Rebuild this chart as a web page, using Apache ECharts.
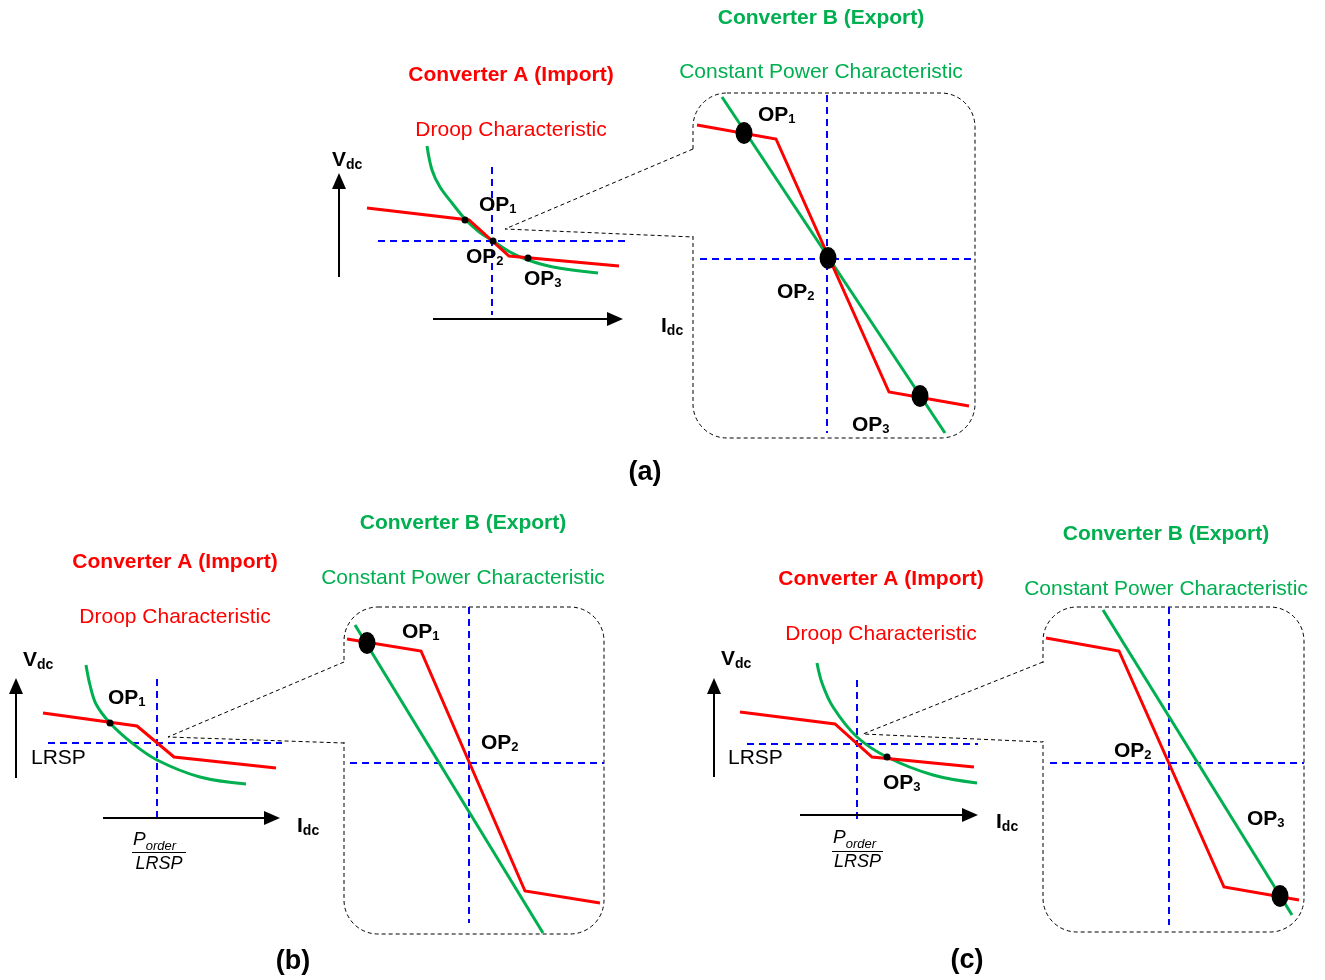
<!DOCTYPE html>
<html>
<head>
<meta charset="utf-8">
<script src="https://cdn.jsdelivr.net/npm/echarts@6/dist/echarts.min.js"></script>
<style>
  html, body { margin: 0; padding: 0; background: #fff; }
  #chart { width: 1325px; height: 980px; }
</style>
</head>
<body>
<div id="chart"></div>
<script>
// Each panel uses its own coordinates: x = Idc, y = Vdc (upwards),
// origin at the corner where the Vdc and Idc axes would meet.

// ---------- Panel (a) ----------
const axesA      = [[0, 42, 0, 146], [94, 0, 284, 0]];
const droopA     = [[28, 111], [130, 99], [170, 63], [280, 53]];
const powerA     = [[88, 173], [93, 149], [101, 132], [113, 116], [126, 100], [139, 88], [154, 78], [171, 67], [189, 59], [214, 52], [259, 46]];
const crossVA    = [[153, 152], [153, 4]];
const crossHA    = [[39, 78], [286, 78]];
const opSmallA   = [[126, 99], [154, 78], [189, 61]];
const funnelA    = [[354, 170], [166, 90], [354, 82]];
const boxA       = [[354, 226, 636, -119, 170, 82]];
const zoomDroopA = [[358, 194], [437, 180], [550, -73], [630, -87]];
const zoomPowerA = [[383, 222], [606, -114]];
const zoomVA     = [[488, 224], [488, -114]];
const zoomHA     = [[361, 60], [636, 60]];
const opZoomA    = [[405, 186], [489, 61], [581, -77]];

// ---------- Panel (b) ----------
const axesB      = [[0, 40, 0, 140], [87, 0, 264, 0]];
const droopB     = [[27, 105], [121, 92], [158, 61], [260, 50]];
const powerB     = [[70, 153], [74, 133], [80, 114], [94, 95], [116, 75], [141, 58], [184, 41], [230, 34]];
const crossVB    = [[141, 139], [141, -4]];
const crossHB    = [[32, 75], [266, 75]];
const opSmallB   = [[94, 95]];
const funnelB    = [[328, 156], [152, 81], [328, 75]];
const boxB       = [[328, 211, 588, -116, 156, 75]];
const zoomDroopB = [[331, 179], [405, 167], [509, -73], [584, -85]];
const zoomPowerB = [[339, 193], [527, -115]];
const zoomVB     = [[453, 211], [453, -105]];
const zoomHB     = [[334, 55], [588, 55]];
const opZoomB    = [[351, 175]];

// ---------- Panel (c) ----------
const axesC      = [[0, 38, 0, 137], [86, 0, 264, 0]];
const droopC     = [[26, 103], [121, 91], [158, 58], [260, 48]];
const powerC     = [[103, 152], [108, 132], [119, 108], [143, 78], [173, 58], [219, 40], [263, 32]];
const crossVC    = [[143, 135], [143, -7]];
const crossHC    = [[33, 71], [264, 71]];
const opSmallC   = [[173, 58]];
const funnelC    = [[329, 153], [149, 81], [329, 73]];
const boxC       = [[329, 208, 590, -117, 153, 73]];
const zoomDroopC = [[332, 177], [405, 164], [510, -72], [585, -85]];
const zoomPowerC = [[389, 205], [578, -100]];
const zoomVC     = [[455, 208], [455, -110]];
const zoomHC     = [[336, 52], [590, 52]];
const opZoomC    = [[566, -81]];

const RED = '#ff0000';
const GREEN = '#00b050';
const BLUE = '#0000ff';
const FAMILY = '"Liberation Sans", Arial, sans-serif';

const W = 1325, H = 980;
const origins = [[339, 319], [16, 818], [714, 815]];

const grids = origins.map(() => ({ left: 0, top: 0, width: W, height: H, show: false }));
const xAxes = origins.map((o, i) => ({ type: 'value', gridIndex: i, min: -o[0], max: W - o[0], show: false }));
const yAxes = origins.map((o, i) => ({ type: 'value', gridIndex: i, min: o[1] - H, max: o[1], show: false }));

function solid(i, data, color, z) {
  return { type: 'line', xAxisIndex: i, yAxisIndex: i, data, showSymbol: false, silent: true, z: z || 3,
    lineStyle: { color, width: 3, join: 'miter' } };
}
function smoothLine(i, data, color) {
  const s = solid(i, data, color, 3);
  s.smooth = 0.35;
  return s;
}
function dashed(i, data, color, width, dash, z) {
  return { type: 'line', xAxisIndex: i, yAxisIndex: i, data, showSymbol: false, silent: true, z: z || 2,
    lineStyle: { color, width, type: dash } };
}
function dots(i, data, size) {
  return { type: 'scatter', xAxisIndex: i, yAxisIndex: i, data, symbol: 'circle', symbolSize: size,
    silent: true, z: 5, itemStyle: { color: '#000', opacity: 1 } };
}
function arrows(i, data) {
  return {
    type: 'custom', xAxisIndex: i, yAxisIndex: i, data, silent: true, z: 4,
    renderItem(params, api) {
      const a = api.coord([api.value(0), api.value(1)]);
      const b = api.coord([api.value(2), api.value(3)]);
      const dx = b[0] - a[0], dy = b[1] - a[1];
      const len = Math.sqrt(dx * dx + dy * dy);
      const ux = dx / len, uy = dy / len;
      const hl = 16, hw = 7;
      const bx = b[0] - ux * hl, by = b[1] - uy * hl;
      return { type: 'group', children: [
        { type: 'line', shape: { x1: a[0], y1: a[1], x2: bx, y2: by }, style: { stroke: '#000', lineWidth: 2 } },
        { type: 'polygon', shape: { points: [[b[0], b[1]], [bx - uy * hw, by + ux * hw], [bx + uy * hw, by - ux * hw]] },
          style: { fill: '#000' } }
      ] };
    }
  };
}
function zoomBox(i, data) {
  return {
    type: 'custom', xAxisIndex: i, yAxisIndex: i, data, silent: true, z: 1,
    renderItem(params, api) {
      const tl = api.coord([api.value(0), api.value(1)]);
      const br = api.coord([api.value(2), api.value(3)]);
      const g1 = api.coord([api.value(0), api.value(4)]);
      const g2 = api.coord([api.value(0), api.value(5)]);
      return { type: 'group', children: [
        { type: 'rect', shape: { x: tl[0], y: tl[1], width: br[0] - tl[0], height: br[1] - tl[1], r: 34 },
          style: { fill: 'none', stroke: '#000', lineWidth: 1, lineDash: [4, 3] } },
        { type: 'rect', shape: { x: g1[0] - 3, y: g1[1] + 1, width: 6, height: g2[1] - g1[1] - 2 },
          style: { fill: '#fff' } }
      ] };
    }
  };
}

const BLUE_DASH = [7, 5];
const BLACK_DASH = [4, 3];
const BIG = [17, 22];

function panel(i, d) {
  return [
    zoomBox(i, d.box),
    dashed(i, d.funnel, '#000', 1, BLACK_DASH, 2),
    arrows(i, d.axes),
    dashed(i, d.crossV, BLUE, 2, BLUE_DASH),
    dashed(i, d.crossH, BLUE, 2, BLUE_DASH),
    dashed(i, d.zoomV, BLUE, 2, BLUE_DASH),
    dashed(i, d.zoomH, BLUE, 2, BLUE_DASH),
    smoothLine(i, d.power, GREEN),
    solid(i, d.droop, RED, 3),
    solid(i, d.zoomPower, GREEN, 3),
    solid(i, d.zoomDroop, RED, 3),
    dots(i, d.opSmall, 7),
    dots(i, d.opZoom, BIG)
  ];
}

const series = [].concat(
  panel(0, { box: boxA, funnel: funnelA, axes: axesA, crossV: crossVA, crossH: crossHA, zoomV: zoomVA, zoomH: zoomHA,
    power: powerA, droop: droopA, zoomPower: zoomPowerA, zoomDroop: zoomDroopA, opSmall: opSmallA, opZoom: opZoomA }),
  panel(1, { box: boxB, funnel: funnelB, axes: axesB, crossV: crossVB, crossH: crossHB, zoomV: zoomVB, zoomH: zoomHB,
    power: powerB, droop: droopB, zoomPower: zoomPowerB, zoomDroop: zoomDroopB, opSmall: opSmallB, opZoom: opZoomB }),
  panel(2, { box: boxC, funnel: funnelC, axes: axesC, crossV: crossVC, crossH: crossHC, zoomV: zoomVC, zoomH: zoomHC,
    power: powerC, droop: droopC, zoomPower: zoomPowerC, zoomDroop: zoomDroopC, opSmall: opSmallC, opZoom: opZoomC })
);

// ---------- Text ----------
function text(x, y, str, font, color, align) {
  return { type: 'text', x, y, silent: true, z: 10,
    style: { text: str, font: font + ' ' + FAMILY, fill: color, align: align || 'center', verticalAlign: 'middle' } };
}
function subText(x, y, main, sub, opt) {
  const style = opt.italic ? 'italic ' : 'bold ';
  return { type: 'text', x, y, silent: true, z: 10,
    style: {
      text: '{m|' + main + '}{s|' + sub + '}', align: 'left', verticalAlign: 'middle',
      rich: {
        m: { font: style + opt.size + 'px ' + FAMILY, fill: '#000', lineHeight: opt.lh },
        s: { font: style + opt.sub + 'px ' + FAMILY, fill: '#000', lineHeight: opt.sub, verticalAlign: 'bottom' }
      }
    } };
}
const OP = { size: 21, sub: 13, lh: 22 };
const VI = { size: 21, sub: 14, lh: 25 };
const PO = { size: 19, sub: 13, lh: 25, italic: true };

function fraction(xl, xr, yBar, yTop, yBot) {
  return [
    subText(xl + 1, yTop, 'P', 'order', PO),
    { type: 'line', silent: true, z: 10, shape: { x1: xl, y1: yBar, x2: xr, y2: yBar }, style: { stroke: '#000', lineWidth: 1 } },
    text((xl + xr) / 2, yBot, 'LRSP', 'italic 18px', '#000')
  ];
}

const TB = 'bold 21px', TN = '21px';
const graphics = [
  // (a)
  text(821, 18, 'Converter B (Export)', TB, GREEN),
  text(821, 72, 'Constant Power Characteristic', TN, GREEN),
  text(511, 75, 'Converter A (Import)', TB, RED),
  text(511, 130, 'Droop Characteristic', TN, RED),
  subText(332, 160, 'V', 'dc', VI),
  subText(661, 326, 'I', 'dc', VI),
  subText(479, 205, 'OP', '1', OP),
  subText(466, 257, 'OP', '2', OP),
  subText(524, 279, 'OP', '3', OP),
  subText(758, 115, 'OP', '1', OP),
  subText(777, 292, 'OP', '2', OP),
  subText(852, 425, 'OP', '3', OP),
  text(645, 473, '(a)', 'bold 27px', '#000'),
  // (b)
  text(463, 523, 'Converter B (Export)', TB, GREEN),
  text(463, 578, 'Constant Power Characteristic', TN, GREEN),
  text(175, 562, 'Converter A (Import)', TB, RED),
  text(175, 617, 'Droop Characteristic', TN, RED),
  subText(23, 660, 'V', 'dc', VI),
  subText(297, 826, 'I', 'dc', VI),
  subText(108, 698, 'OP', '1', OP),
  text(31, 758, 'LRSP', TN, '#000', 'left'),
  subText(402, 632, 'OP', '1', OP),
  subText(481, 743, 'OP', '2', OP),
  text(293, 962, '(b)', 'bold 27px', '#000'),
  // (c)
  text(1166, 534, 'Converter B (Export)', TB, GREEN),
  text(1166, 589, 'Constant Power Characteristic', TN, GREEN),
  text(881, 579, 'Converter A (Import)', TB, RED),
  text(881, 634, 'Droop Characteristic', TN, RED),
  subText(721, 659, 'V', 'dc', VI),
  subText(996, 822, 'I', 'dc', VI),
  text(728, 758, 'LRSP', TN, '#000', 'left'),
  subText(883, 783, 'OP', '3', OP),
  subText(1114, 751, 'OP', '2', OP),
  subText(1247, 819, 'OP', '3', OP),
  text(967, 961, '(c)', 'bold 27px', '#000')
].concat(fraction(132, 186, 852.5, 840, 864), fraction(832, 883, 851.5, 838, 862));

const chart = echarts.init(document.getElementById('chart'), null, { renderer: 'canvas' });
chart.setOption({
  animation: false,
  backgroundColor: '#fff',
  grid: grids,
  xAxis: xAxes,
  yAxis: yAxes,
  series,
  graphic: { elements: graphics }
});
</script>
</body>
</html>
